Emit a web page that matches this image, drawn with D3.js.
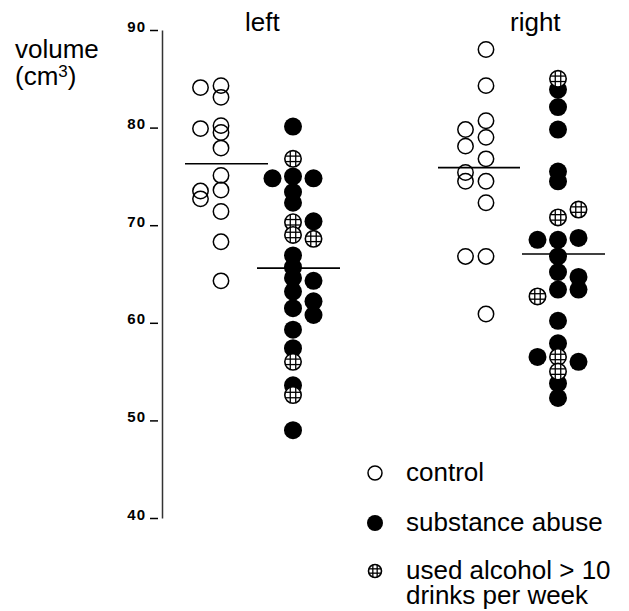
<!DOCTYPE html>
<html lang="en">
<head>
    <meta charset="UTF-8">
    <title>volume</title>
    <script src="https://cdn.jsdelivr.net/npm/d3@7"></script>
    <style>
      body { margin: 0; background: #fff; }
      text { font-family: "Liberation Sans", Arial, sans-serif; fill: #000; }
    </style>
</head>
<body>
<script>

var width = 629,
    height = 611

// sides and groups
var sides = ["left", "right"]
var groups = ["control", "substance"]
var yTicks = [40, 50, 60, 70, 80, 90]

// [column, value, kind]   kind: c = control, s = substance abuse, a = alcohol > 10
var leftControl = [
  [-1, 84.1, "c"], [0, 84.3, "c"], [0, 83.1, "c"], [-1, 79.9, "c"], [0, 80.2, "c"],
  [0, 79.5, "c"], [0, 77.9, "c"], [0, 75.1, "c"], [-1, 73.5, "c"], [-1, 72.7, "c"],
  [0, 73.6, "c"], [0, 71.4, "c"], [0, 68.3, "c"], [0, 64.3, "c"]
]
var leftSubstance = [
  [0, 80.1, "s"], [0, 76.8, "a"], [0, 75.0, "s"], [0, 73.4, "s"], [0, 72.3, "s"],
  [0, 70.3, "a"], [0, 69.0, "a"], [0, 66.9, "s"], [0, 65.7, "s"], [0, 64.6, "s"],
  [0, 63.2, "s"], [0, 61.5, "s"], [0, 59.3, "s"], [0, 57.4, "s"], [0, 56.0, "a"],
  [0, 53.6, "s"], [0, 52.6, "a"], [0, 49.0, "s"],
  [-1, 74.8, "s"],
  [1, 74.8, "s"], [1, 70.4, "s"], [1, 68.6, "a"], [1, 64.3, "s"], [1, 62.2, "s"], [1, 60.8, "s"]
]
var rightControl = [
  [0, 88.0, "c"], [0, 84.3, "c"], [0, 80.7, "c"], [-1, 79.8, "c"], [0, 79.0, "c"],
  [-1, 78.1, "c"], [0, 76.8, "c"], [-1, 75.4, "c"], [-1, 74.5, "c"], [0, 74.5, "c"],
  [0, 72.3, "c"], [-1, 66.8, "c"], [0, 66.8, "c"], [0, 60.9, "c"]
]
var rightSubstance = [
  [0, 85.0, "a"], [0, 83.9, "s"], [0, 82.1, "s"], [0, 79.8, "s"], [0, 75.5, "s"],
  [0, 74.5, "s"], [0, 70.8, "a"], [1, 71.6, "a"], [-1, 68.5, "s"], [0, 68.5, "s"],
  [1, 68.7, "s"], [0, 66.8, "s"], [0, 65.2, "s"], [0, 63.4, "s"], [1, 64.7, "s"],
  [1, 63.4, "s"], [-1, 62.7, "a"], [0, 60.2, "s"], [0, 57.9, "s"], [0, 56.5, "a"],
  [0, 55.0, "a"], [0, 53.8, "s"], [0, 52.3, "s"], [-1, 56.5, "s"], [1, 56.0, "s"]
]

// group means (horizontal bars)
var meanLeft = [76.3, 65.6]
var meanRight = [75.9, 67.05]

var legendLabels = [["control"], ["substance abuse"], ["used alcohol > 10", "drinks per week"]]
var legendKinds = ["c", "s", "a"]

var svg = d3.select("body").append("svg")
    .attr("width", width)
    .attr("height", height)

var y = d3.scaleLinear().domain([40, 90]).range([518, 30])
var xSide = d3.scalePoint().domain(sides).range([257, 522])
var xGroup = d3.scalePoint().domain(groups).range([-36, 36])
var xCol = d3.scaleLinear().domain([-1, 1]).range([-20.5, 20.5])

var sets = [
  {side: "left", group: "control", pts: leftControl, mean: meanLeft[0]},
  {side: "left", group: "substance", pts: leftSubstance, mean: meanLeft[1]},
  {side: "right", group: "control", pts: rightControl, mean: meanRight[0]},
  {side: "right", group: "substance", pts: rightSubstance, mean: meanRight[1]}
]

var points = []
sets.forEach(function(s) {
  s.cx = xSide(s.side) + xGroup(s.group)
  s.pts.forEach(function(p) {
    points.push({x: s.cx + xCol(p[0]), y: y(p[1]), kind: p[2]})
  })
})

// axis
var axis = svg.append("g")
    .attr("transform", "translate(162,0)")
    .call(d3.axisLeft(y).tickValues(yTicks).tickSize(0).tickPadding(16).tickFormat(d3.format("d")))
axis.select(".domain").attr("stroke", "#333").attr("stroke-width", 1.5)
axis.selectAll(".tick text")
    .attr("dy", "0")
    .attr("y", 1)
    .style("font-size", "15px")
    .style("font-weight", "bold")
    .style("letter-spacing", "1px")
    .style("font-family", "'Liberation Sans', Arial, sans-serif")
axis.selectAll(".tick").append("line")
    .attr("x1", -12).attr("x2", -4)
    .attr("stroke", "#000").attr("stroke-width", 1.5)

// y label
svg.append("text").attr("x", 15).attr("y", 58).style("font-size", "26px").text("volume")
var lab = svg.append("text").attr("x", 15).attr("y", 85).style("font-size", "26px")
lab.append("tspan").text("(cm")
lab.append("tspan").attr("dy", -8).style("font-size", "17px").text("3")
lab.append("tspan").attr("dy", 8).text(")")

// side titles
svg.selectAll(".title").data(sides).enter()
    .append("text")
    .attr("x", function(d){ return xSide(d) - 12 })
    .attr("y", 31)
    .style("font-size", "26px")
    .text(function(d){ return d })

// mean lines
svg.selectAll(".mean").data(sets).enter()
    .append("line")
    .attr("x1", function(d){ return d.cx - (d.side == "right" && d.group == "control" ? 48 : 36) })
    .attr("x2", function(d){ return d.cx + (d.side == "right" && d.group == "control" ? 34 : 47) })
    .attr("y1", function(d){ return y(d.mean) })
    .attr("y2", function(d){ return y(d.mean) })
    .attr("stroke", "#000")
    .attr("stroke-width", 1.6)

function drawMark(g, kind, r) {
  if (kind == "c") {
    g.append("circle").attr("r", r.c).attr("fill", "none").attr("stroke", "#000").attr("stroke-width", 1.5)
  } else if (kind == "s") {
    g.append("circle").attr("r", r.s).attr("fill", "#000")
  } else {
    var rr = r.a
    g.append("circle").attr("r", rr).attr("fill", "#fff").attr("stroke", "#000").attr("stroke-width", 1.6)
    var k = rr / 3
    var h = Math.sqrt(rr * rr - k * k)
    ;[-k, k].forEach(function(o) {
      g.append("line").attr("x1", o).attr("x2", o).attr("y1", -h).attr("y2", h).attr("stroke", "#000").attr("stroke-width", 1.3)
      g.append("line").attr("y1", o).attr("y2", o).attr("x1", -h).attr("x2", h).attr("stroke", "#000").attr("stroke-width", 1.3)
    })
  }
}

var order = {c: 0, s: 1, a: 2}
points.sort(function(a, b){ return order[a.kind] - order[b.kind] })

svg.selectAll(".pt").data(points).enter()
    .append("g")
    .attr("transform", function(d){ return "translate(" + d.x + "," + d.y + ")" })
    .each(function(d){ drawMark(d3.select(this), d.kind, {c: 7.7, s: 9, a: 8.2}) })

// legend
var legY = [473, 523, 571]
var leg = svg.selectAll(".leg").data(legendKinds).enter()
    .append("g")
    .attr("transform", function(d, i){ return "translate(375," + legY[i] + ")" })
leg.each(function(d){ drawMark(d3.select(this), d, {c: 7, s: 8, a: 6.5}) })
leg.append("text")
    .attr("x", 31)
    .attr("y", 8)
    .style("font-size", "26px")
    .selectAll("tspan").data(function(d, i){ return legendLabels[i] }).enter()
    .append("tspan")
    .attr("x", 31)
    .attr("dy", function(d, i){ return i ? 25 : 0 })
    .text(function(d){ return d })

</script>
</body>
</html>
